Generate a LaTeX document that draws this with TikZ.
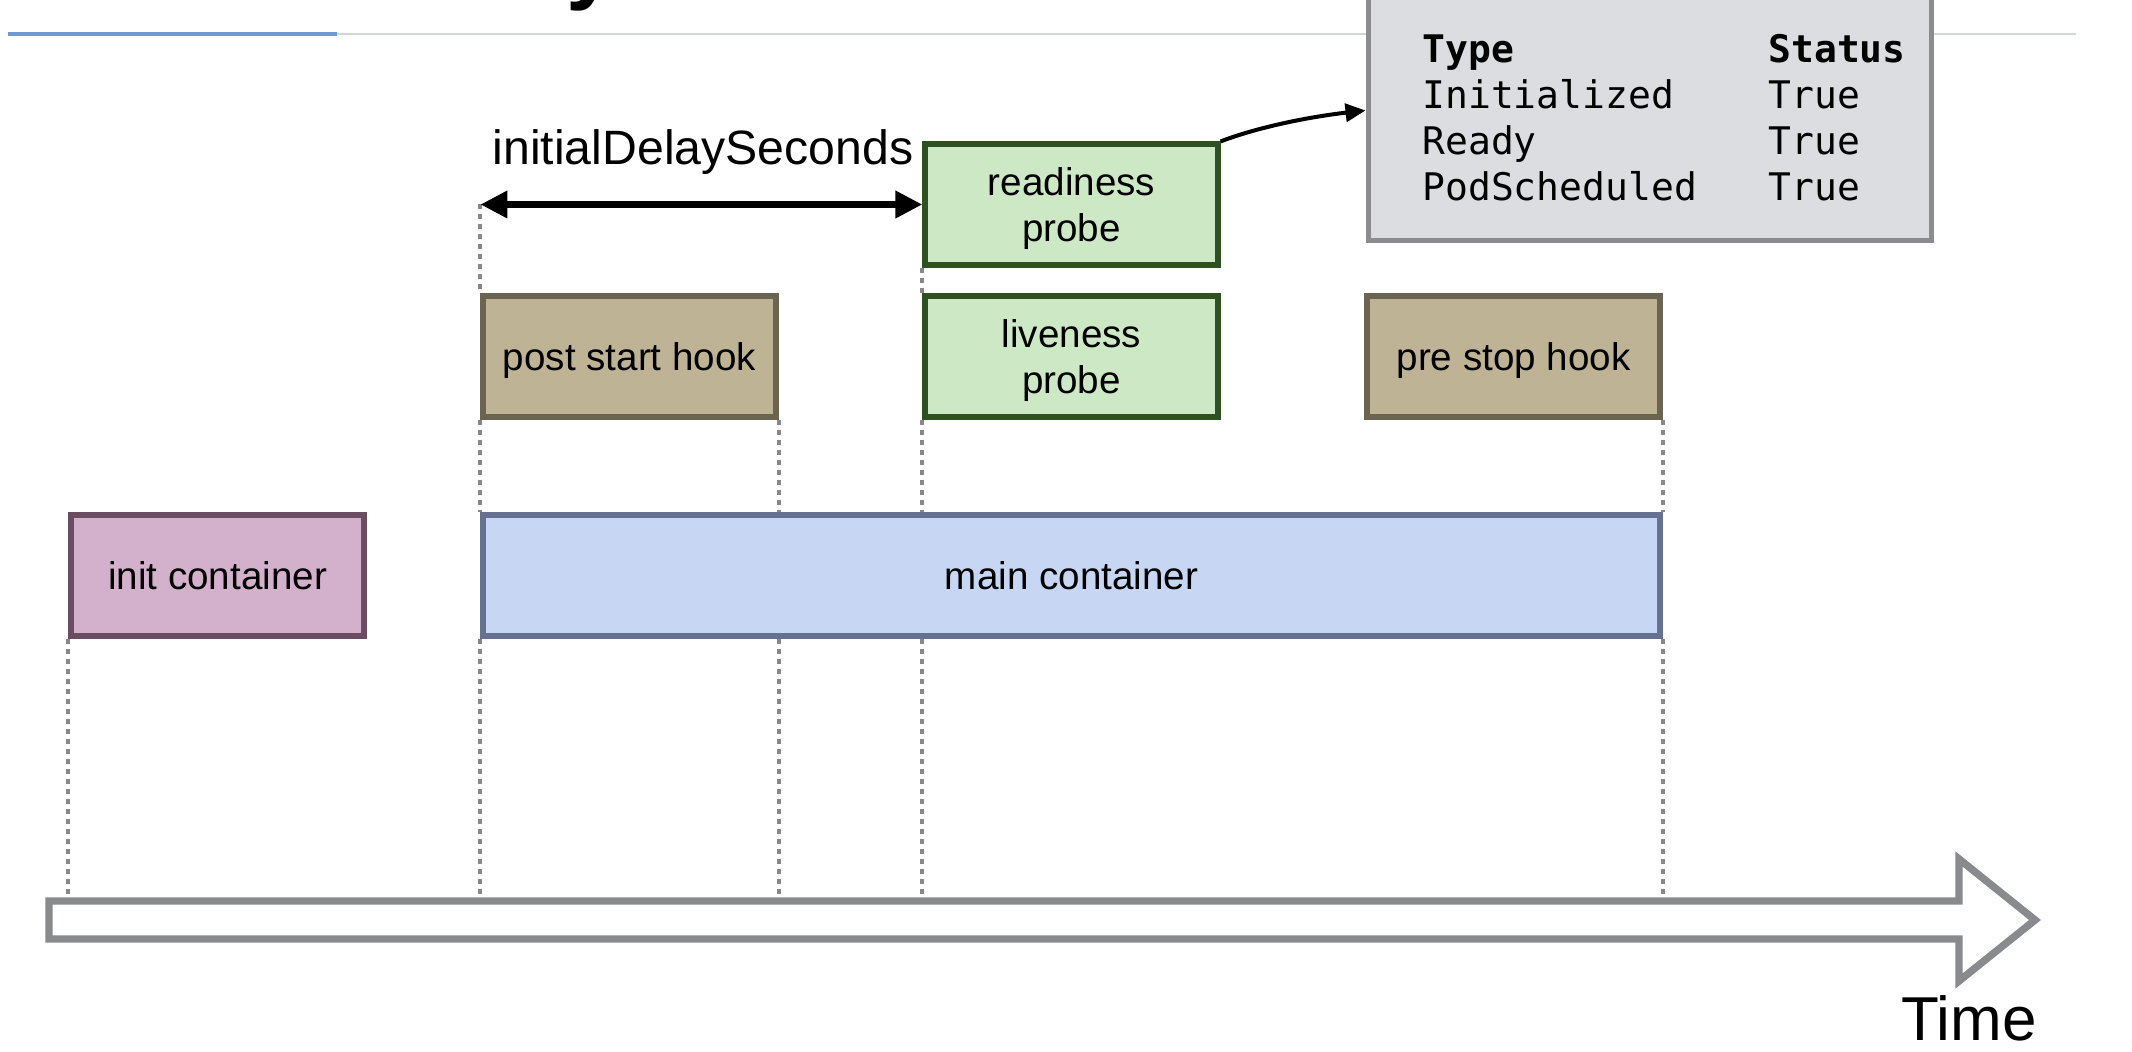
\documentclass[tikz,border=0pt]{standalone}
\usepackage{fontspec}
\setmainfont{Liberation Sans}
\setmonofont{DejaVu Sans Mono}
\usetikzlibrary{arrows.meta}
\definecolor{hdrblue}{HTML}{6B9BD1}
\definecolor{hdrgray}{HTML}{D3D6D6}
\definecolor{stfill}{HTML}{DCDDE0}
\definecolor{stdraw}{HTML}{8C8C90}
\definecolor{grfill}{HTML}{CDE8C5}
\definecolor{grdraw}{HTML}{2D5121}
\definecolor{hkfill}{HTML}{BFB396}
\definecolor{hkdraw}{HTML}{6B6451}
\definecolor{infill}{HTML}{D3B0CB}
\definecolor{indraw}{HTML}{6A4D60}
\definecolor{mnfill}{HTML}{C6D6F3}
\definecolor{mndraw}{HTML}{667090}
\definecolor{dotgray}{HTML}{888888}
\definecolor{tlgray}{HTML}{898A8E}
\begin{document}
\begin{tikzpicture}[x=0.5pt,y=-0.5pt,
  box/.style={draw, line width=2.6pt, minimum width=146.5pt, minimum height=60.5pt,
    inner sep=0pt, align=center, text=black, text depth=0pt, font=\fontsize{19.3}{23}\selectfont},
  greenbox/.style={box, fill=grfill, draw=grdraw},
  hookbox/.style={box, fill=hkfill, draw=hkdraw},
  dotline/.style={draw=dotgray, line width=2pt, dash pattern=on 2.5pt off 2.5pt},
  monorow/.style={anchor=base west, inner sep=0pt, text=black, font=\ttfamily\fontsize{19}{23}\selectfont},
  monohead/.style={monorow, font=\ttfamily\bfseries\fontsize{19}{23}\selectfont},
  dblarrow/.style={line width=3.6pt, {Triangle[length=13.5pt,width=13pt]}-{Triangle[length=13.5pt,width=13pt]}},
  curvarrow/.style={line width=2pt, -{Triangle[length=10pt,width=9pt]}}
]
\useasboundingbox (0,0) rectangle (2132,1052);

% header rule and cut-off title glyph
\node[anchor=base west, inner sep=0pt, font=\bfseries\fontsize{45}{45}\selectfont] (titley) at (566,-7) {y};
\coordinate (hA) at (8,34);
\coordinate (hB) at (337,34);
\coordinate (hC) at (2076,34);
\draw[hdrblue, line width=1.7pt] (hA) -- (hB);
\draw[hdrgray, line width=1.4pt] (hB) -- (hC);

% status box
\node[draw=stdraw, fill=stfill, line width=2.5pt, minimum width=281.5pt, minimum height=130.5pt, inner sep=0pt] (status) at (1649.5,110.5) {};
\node[monohead] (tType) at (1422,63) {Type};
\node[monohead] (tStatus) at (1768,63) {Status};
\node[monorow] (tInit) at (1422,109) {Initialized};
\node[monorow] (tInitV) at (1768,109) {True};
\node[monorow] (tReady) at (1422,155) {Ready};
\node[monorow] (tReadyV) at (1768,155) {True};
\node[monorow] (tPod) at (1422,201) {PodScheduled};
\node[monorow] (tPodV) at (1768,201) {True};

% boxes
\node[greenbox] (readiness) at (1071.5,204.5) {readiness\\probe};
\node[greenbox] (liveness) at (1071.5,356.5) {liveness\\probe};
\node[hookbox] (poststart) at (629.5,356.5) {post start hook};
\node[hookbox] (prestop) at (1513.5,356.5) {pre stop hook};
\node[box, fill=infill, draw=indraw] (init) at (217.5,575.5) {init container};
\node[box, fill=mnfill, draw=mndraw, minimum width=588.5pt] (main) at (1071.5,575.5) {main container};

% timeline reference
\coordinate (shaft) at (49,901);

% dotted guide lines
\draw[dotline] (init.south west) -- (init.south west |- shaft);
\draw[dotline] (readiness.west -| main.west) -- (poststart.north west);
\draw[dotline] (poststart.south west) -- (main.north west);
\draw[dotline] (main.south west) -- (main.south west |- shaft);
\draw[dotline] (poststart.south east) -- (poststart.south east |- main.north);
\draw[dotline] (poststart.south east |- main.south) -- (poststart.south east |- shaft);
\draw[dotline] (readiness.south west) -- (liveness.north west);
\draw[dotline] (liveness.south west) -- (liveness.south west |- main.north);
\draw[dotline] (liveness.south west |- main.south) -- (liveness.south west |- shaft);
\draw[dotline] (prestop.south east) -- (main.north east);
\draw[dotline] (main.south east) -- (main.south east |- shaft);

% time arrow
\draw[draw=tlgray, fill=white, line width=3.7pt, line join=miter]
  (shaft) -- (1959,901) -- (1959,859) -- (2035,920) -- (1959,981) -- (1959,939) -- (49,939) -- cycle;
\node[anchor=base, inner sep=0pt, font=\fontsize{31}{31}\selectfont] (time) at (1969,1040) {Time};

% initial delay
\draw[dblarrow] (readiness.west -| main.west) -- (readiness.west);
\node[anchor=base, inner sep=0pt, font=\fontsize{24.1}{25}\selectfont] (delay) at (703,165) {initialDelaySeconds};

% readiness -> status
\draw[curvarrow] (readiness.north east) .. controls +(45,-17) and +(-45,5) .. (status.west);
\end{tikzpicture}
\end{document}
